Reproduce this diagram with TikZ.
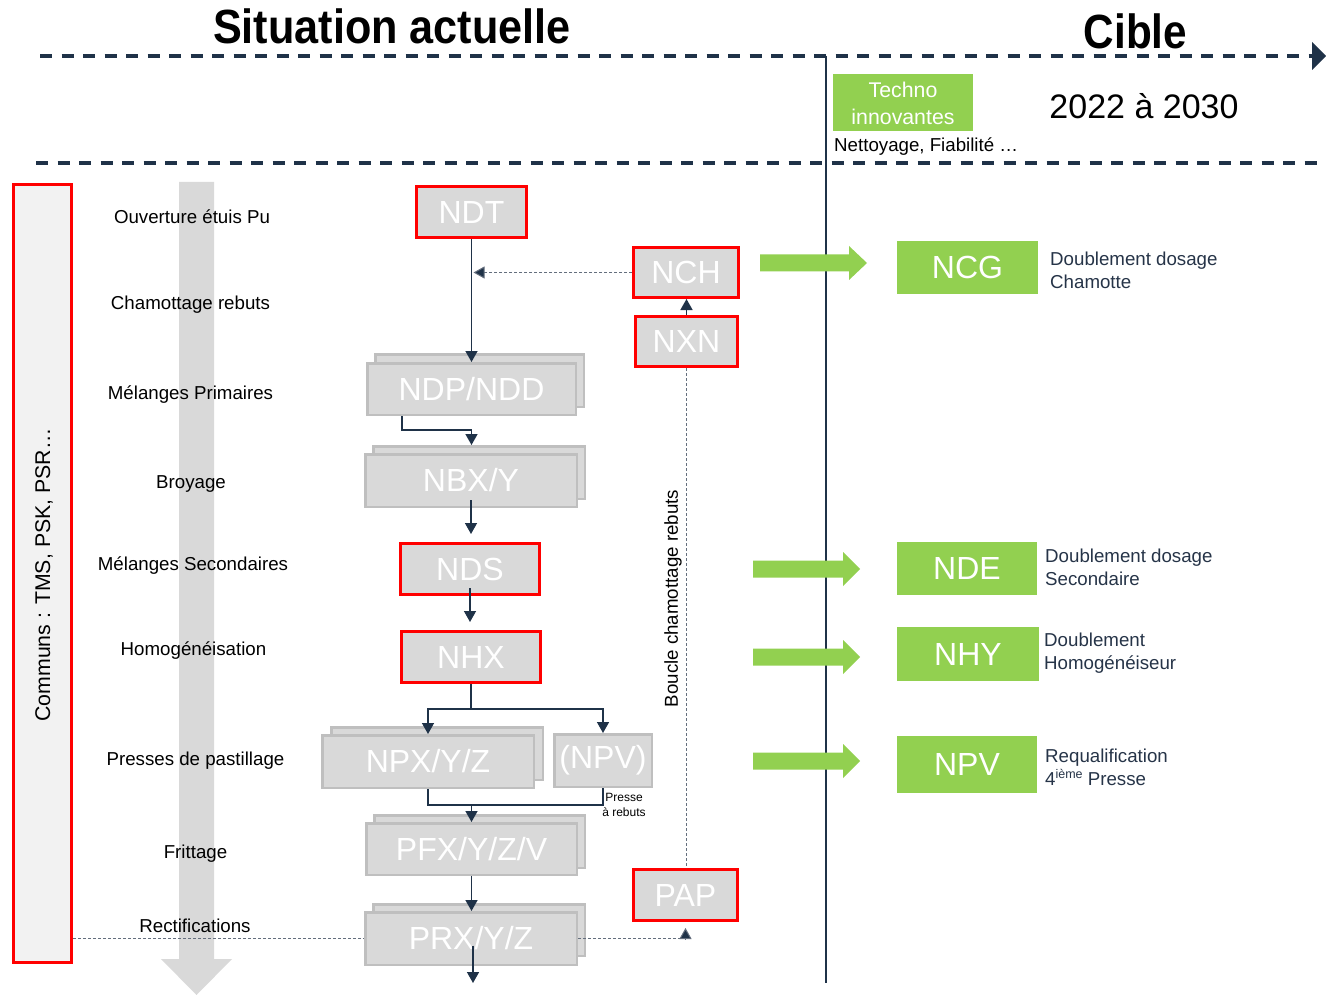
\documentclass[tikz,border=0pt]{standalone}
\usepackage{fontspec}
\usepackage{graphicx}
\setmainfont{Liberation Sans}
\usetikzlibrary{arrows.meta,calc}
\definecolor{navy}{RGB}{31,50,72}
\definecolor{lblue}{RGB}{38,52,72}
\definecolor{boxgrey}{RGB}{217,217,217}
\definecolor{boxedge}{RGB}{191,191,191}
\definecolor{gr}{RGB}{146,208,80}
\definecolor{dotc}{RGB}{100,110,125}
\definecolor{commfill}{RGB}{242,242,242}
\newcommand{\fsz}[2]{\fontsize{#1pt}{#2pt}\selectfont}
\newcommand{\garrow}[4]{\fill[gr] (#1,#4-8.5) -- (#2,#4-8.5) -- (#2,#4-17) -- (#3,#4) -- (#2,#4+17) -- (#2,#4+8.5) -- (#1,#4+8.5) -- cycle;}
\begin{document}
\begin{tikzpicture}[x=1pt,y=-1pt,
  gbox/.style={draw=boxedge, line width=2.5pt, fill=boxgrey, text=white, font=\fsz{32}{36}, inner sep=0pt},
  rbox/.style={draw=red, line width=3pt, fill=boxgrey, text=white, font=\fsz{32}{36}, inner sep=0pt},
  greenbox/.style={fill=gr, text=white, font=\fsz{32}{36}, inner sep=0pt},
  stagelbl/.style={font=\fsz{18.7}{22}, text=black, inner sep=0pt},
  desctext/.style={font=\fsz{18.7}{23}, text=lblue, align=left, anchor=west, inner sep=0pt},
  flow/.style={draw=navy, line width=1.5pt, -{Triangle[length=11pt,width=12pt]}},
  plainflow/.style={draw=navy, line width=1.5pt},
  dotline/.style={draw=dotc, line width=1pt, dash pattern=on 3pt off 2pt},
  dottip/.style={-{Triangle[length=11pt,width=12pt,fill=navy]}},
  tline/.style={draw=navy, line width=3.5pt, dash pattern=on 12pt off 9.5pt}
]
\fill[white] (0,0) rectangle (1326,995);
\useasboundingbox (0,0) rectangle (1326,995);

% titles
\node[font=\fsz{48}{52}\bfseries, inner sep=0pt] (t1) at (392,26) {\scalebox{0.9}[1]{Situation actuelle}};
\node[font=\fsz{48}{52}\bfseries, inner sep=0pt] (t2) at (1135.5,31) {\scalebox{0.88}[1]{Cible}};

% timeline
\draw[tline] (40,56) -- (1312,56);
\fill[navy] (1312,42) -- (1326,56) -- (1312,70) -- cycle;
\draw[tline] (36,163) -- (1326,163);
\draw[navy, line width=1.5pt] (826,56) -- (826,983);

% top right block
\node[fill=gr, text=white, font=\fsz{21.3}{27}, align=center, minimum width=140pt, minimum height=57pt, inner sep=0pt] (techno) at (903,103) {Techno\\innovantes};
\node[anchor=west, inner sep=0pt, font=\fsz{18.7}{22}] (nett) at (834,147) {Nettoyage, Fiabilité …};
\node[font=\fsz{34}{38}, inner sep=0pt] (years) at (1144,106) {2022 à 2030};

% left column
\node[draw=red, line width=3pt, fill=commfill, minimum width=58pt, minimum height=777pt, inner sep=0pt] (comm) at (42.5,573.5) {};
\node[rotate=90, font=\fsz{21.3}{24}, inner sep=0pt] (commtxt) at (44,575) {Communs : TMS, PSK, PSR…};

% big grey arrow
\fill[boxgrey] (179,182) -- (214,182) -- (214,959) -- (232,959) -- (196.5,995) -- (161,959) -- (179,959) -- cycle;

% stage labels
\node[stagelbl] (s1) at (192,217) {Ouverture étuis Pu};
\node[stagelbl] (s2) at (190.5,304.5) {Chamottage rebuts};
\node[stagelbl] (s3) at (190.5,394.5) {Mélanges Primaires};
\node[stagelbl] (s4) at (191,484.5) {Broyage};
\node[stagelbl] (s5) at (193,565.5) {Mélanges Secondaires};
\node[stagelbl] (s6) at (193.5,650.5) {Homogénéisation};
\node[stagelbl] (s7) at (195.5,760.5) {Presses de pastillage};
\node[stagelbl] (s8) at (195.5,853.5) {Frittage};
\node[stagelbl] (s9) at (195,926) {Rectifications};

% process boxes
\node[rbox, minimum width=110pt, minimum height=51pt] (ndt) at (471.5,212) {NDT};
\node[rbox, minimum width=105pt, minimum height=50pt] (nch) at (686,272.5) {NCH};
\node[rbox, minimum width=102pt, minimum height=50pt] (nxn) at (686.5,341.5) {NXN};

\node[gbox, minimum width=208.5pt, minimum height=52.5pt] (ndpb) at (479.5,380.5) {};
\node[gbox, minimum width=208.5pt, minimum height=51.5pt] (ndp) at (471.5,389) {NDP/NDD};

\node[gbox, minimum width=211.5pt, minimum height=52.5pt] (nbxb) at (479,472.5) {};
\node[gbox, minimum width=211.5pt, minimum height=52.5pt] (nbx) at (471,480.5) {NBX/Y};

\node[rbox, minimum width=139pt, minimum height=51pt] (nds) at (470,569) {NDS};
\node[rbox, minimum width=139pt, minimum height=51pt] (nhx) at (471,657) {NHX};

\node[gbox, minimum width=211.5pt, minimum height=52.5pt] (npxb) at (437,753.5) {};
\node[gbox, minimum width=211.5pt, minimum height=52.5pt] (npx) at (428,761.5) {NPX/Y/Z};
\node[gbox, minimum width=97.5pt, minimum height=52.5pt] (npv) at (603,760.5) {(NPV)};

\node[gbox, minimum width=210.5pt, minimum height=52.5pt] (pfxb) at (479.5,841.5) {};
\node[gbox, minimum width=210.5pt, minimum height=51.5pt] (pfx) at (471.5,849) {PFX/Y/Z/V};

\node[gbox, minimum width=211.5pt, minimum height=51.5pt] (prxb) at (479,930) {};
\node[gbox, minimum width=211.5pt, minimum height=52.5pt] (prx) at (471,938.5) {PRX/Y/Z};

\node[rbox, minimum width=104pt, minimum height=51pt] (pap) at (685.5,895) {PAP};

% connectors
\draw[flow] (ndt.south) -- (ndt.south |- ndp.north);
\coordinate (jnch) at ($(ndt.south |- nch.west)+(2,0)$);
\draw[dotline, dottip] (nch.west) -- (jnch);
\draw[flow] (nxn.north) -- (nxn.north |- nch.south);
\draw[dotline] (nxn.south) -- (nxn.south |- pap.north);
\node[rotate=90, font=\fsz{18.7}{22}, inner sep=0pt] (boucle) at (673,598.5) {Boucle chamottage rebuts};

\draw[flow] ($(ndp.south west)+(36,0)$) |- ($(ndp.south)+(0,14)$) -- (ndp.south |- nbxb.north);
\draw[flow, shorten <=-8pt, shorten >=8pt] (nbx.south) -- (nbx.south |- nds.north);
\draw[flow, shorten <=-8pt, shorten >=8pt] (nds.south) -- (nds.south |- nhx.north);

\draw[plainflow] (nhx.south) -- ++(0,25) coordinate (jnhx);
\draw[flow] (jnhx) -| (npx.north);
\draw[flow] (jnhx) -| (npv.north);

\draw[plainflow] (npx.south) -- ++(0,16) coordinate (jnpx) -| (npv.south);
\draw[flow] (jnpx -| pfx.north) -- (pfx.north);
\node[font=\fsz{12}{14.5}, align=center, inner sep=0pt] (presse) at (624,805) {Presse\\à rebuts};

\draw[flow] (pfx.south) -- (pfx.south |- prx.north);
\coordinate (prxout) at (473,983);
\draw[flow] ($(prx.center)+(2,7)$) -- (prxout);

\draw[dotline] (comm.east |- prx.west) -- (prx.west);
\draw[dotline, dottip, shorten >=6pt] (prx.east) -| (pap.south);

% target side
\garrow{760}{849}{867}{263}
\garrow{753}{843}{860}{569}
\garrow{753}{843}{860}{657}
\garrow{753}{843}{860}{761}

\node[greenbox, minimum width=141pt, minimum height=53pt] (ncg) at (967.5,267.5) {NCG};
\node[greenbox, minimum width=140pt, minimum height=53pt] (nde) at (967,568.5) {NDE};
\node[greenbox, minimum width=142pt, minimum height=54pt] (nhy) at (968,654) {NHY};
\node[greenbox, minimum width=140pt, minimum height=57pt] (npvt) at (967,764.5) {NPV};

\node[desctext] (dncg) at (1050,270) {Doublement dosage\\Chamotte};
\node[desctext] (dnde) at (1045,567) {Doublement dosage\\Secondaire};
\node[desctext] (dnhy) at (1044,653) {Doublement\\Homogénéiseur};
\node[desctext] (dnpv) at (1045,767) {Requalification\\4\raisebox{7pt}{\fsz{12.5}{14}ième} Presse};
\end{tikzpicture}
\end{document}
